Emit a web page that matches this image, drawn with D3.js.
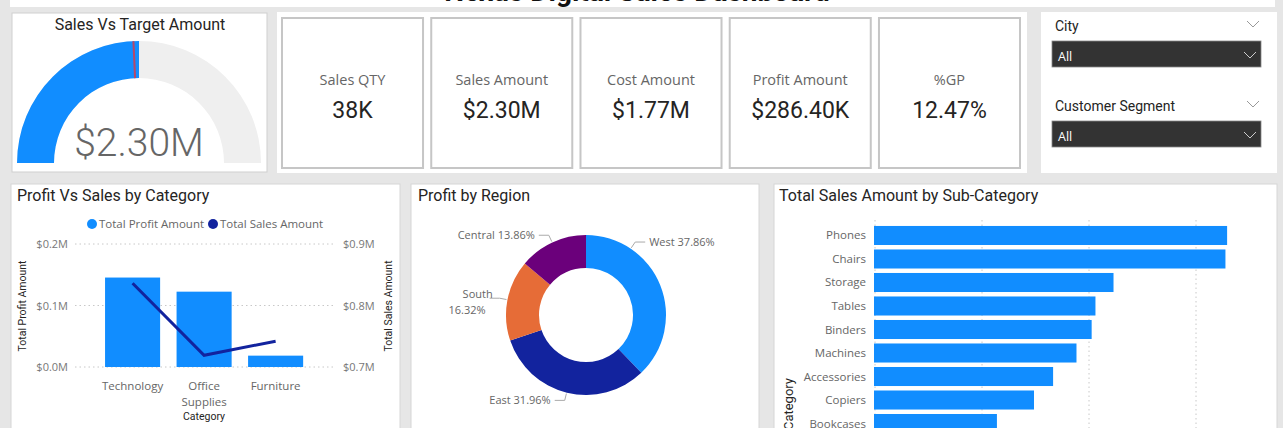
<!DOCTYPE html>
<html>
<head>
<meta charset="utf-8">
<script src="https://cdn.jsdelivr.net/npm/d3@7"></script>
<style>
  body { margin: 0; background: #e6e6e6; }
  svg { display: block; }
  text { font-family: 'Open Sans', 'Segoe UI', sans-serif; }
  .din { font-family: Roboto, 'DejaVu Sans', sans-serif; }
</style>
</head>
<body>
<svg id="dash" width="1283" height="428"></svg>
<script>
// ---- data ----
let gaugeValue = 2297201, gaugeMax = 4594402, gaugeTarget = 2230000
let gaugeLabel = '$2.30M'

let kpiNames = ['Sales QTY', 'Sales Amount', 'Cost Amount', 'Profit Amount', '%GP']
let kpiValues = ['38K', '$2.30M', '$1.77M', '$286.40K', '12.47%']

let slicerNames = ['City', 'Customer Segment']
let slicerValues = ['All', 'All']

let categories = ['Technology', 'Office Supplies', 'Furniture']
let catProfit = [145455, 122491, 18451]
let catSales = [836154, 719047, 741999]
let profitTicks = [0, 100000, 200000]
let salesTicks = [700000, 800000, 900000]

let regions = ['West', 'East', 'South', 'Central']
let regionShare = [37.86, 31.96, 16.32, 13.86]

let subCats = ['Phones', 'Chairs', 'Storage', 'Tables', 'Binders', 'Machines', 'Accessories', 'Copiers', 'Bookcases']
let subSales = [330007, 328449, 223844, 206966, 203413, 189239, 167380, 149528, 114880]
let subTicks = [0, 100000, 200000, 300000]

function main() {
    let svg = d3.select('#dash')
    const blue = '#118DFF', navy = '#12239E', grey = '#666'

    // top title band (title is mostly scrolled out of view)
    svg.append('rect').attr('x', 10).attr('y', 0).attr('width', 1265).attr('height', 7).attr('fill', '#fff')
    svg.append('text').attr('class', 'din').attr('x', 637).attr('y', 1)
        .attr('text-anchor', 'middle').attr('font-size', 28).attr('font-weight', 700).attr('fill', '#111')
        .text('Nexus Digital Sales Dashboard')

    const panel = (x, y, w, h, stroke) => svg.append('rect')
        .attr('x', x).attr('y', y).attr('width', w).attr('height', h)
        .attr('fill', '#fff').attr('stroke', stroke || 'none')

    // ---- gauge ----
    panel(12, 13, 255, 159, '#cfcfcf')
    svg.append('text').attr('class', 'din').attr('x', 140).attr('y', 30)
        .attr('text-anchor', 'middle').attr('font-size', 16).attr('fill', '#252423')
        .text('Sales Vs Target Amount')
    let gScale = d3.scaleLinear().domain([0, gaugeMax]).range([-Math.PI / 2, Math.PI / 2])
    let arc = d3.arc().innerRadius(85).outerRadius(122)
    let gg = svg.append('g').attr('transform', 'translate(139,163)')
    gg.append('path').attr('d', arc({startAngle: gScale(0), endAngle: gScale(gaugeMax)})).attr('fill', '#efefef')
    gg.append('path').attr('d', arc({startAngle: gScale(0), endAngle: gScale(gaugeValue)})).attr('fill', blue)
    let ta = gScale(gaugeTarget)
    gg.append('line')
        .attr('x1', 85 * Math.sin(ta)).attr('y1', -85 * Math.cos(ta))
        .attr('x2', 122 * Math.sin(ta)).attr('y2', -122 * Math.cos(ta))
        .attr('stroke', '#b5486a').attr('stroke-width', 2)
    gg.append('text').attr('class', 'din').attr('x', 0).attr('y', -7)
        .attr('text-anchor', 'middle').attr('font-size', 39).attr('font-weight', 300).attr('fill', grey)
        .text(gaugeLabel)

    // ---- KPI cards ----
    panel(277, 12, 750, 161)
    let cardX = d3.scaleBand().domain(kpiNames).range([282, 1020]).paddingInner(0.055)
    kpiNames.forEach((name, i) => {
        let x = cardX(name), w = cardX.bandwidth()
        svg.append('rect').attr('x', x).attr('y', 18).attr('width', w).attr('height', 150)
            .attr('fill', '#fff').attr('stroke', '#c6c6c6').attr('stroke-width', 2)
        svg.append('text').attr('x', x + w / 2).attr('y', 85).attr('text-anchor', 'middle')
            .attr('font-size', 14.5).attr('fill', grey).text(name)
        svg.append('text').attr('class', 'din').attr('x', x + w / 2).attr('y', 118).attr('text-anchor', 'middle')
            .attr('font-size', 23).attr('fill', '#252423').text(kpiValues[i])
    })

    // ---- slicers ----
    panel(1041, 12, 236, 161)
    const chevron = (cx, cy, color) => svg.append('path')
        .attr('d', `M${cx - 6},${cy - 3}L${cx},${cy + 3}L${cx + 6},${cy - 3}`)
        .attr('fill', 'none').attr('stroke', color).attr('stroke-width', 1)
    slicerNames.forEach((name, i) => {
        let oy = i * 80
        svg.append('text').attr('class', 'din').attr('x', 1055).attr('y', 31 + oy)
            .attr('font-size', 14).attr('fill', '#252423').text(name)
        chevron(1253, 24 + oy, '#999')
        svg.append('rect').attr('x', 1052).attr('y', 41 + oy).attr('width', 209).attr('height', 26)
            .attr('fill', '#333').attr('stroke', '#888').attr('stroke-width', 0.8)
        svg.append('text').attr('x', 1058).attr('y', 61 + oy)
            .attr('font-size', 12.5).attr('fill', '#fff').text(slicerValues[i])
        chevron(1250, 55 + oy, '#ccc')
    })

    // ---- Profit Vs Sales by Category ----
    panel(11, 184, 389, 260, '#d6d6d6')
    svg.append('text').attr('class', 'din').attr('x', 17).attr('y', 201)
        .attr('font-size', 16).attr('fill', '#252423').text('Profit Vs Sales by Category')
    let lg = svg.append('g').attr('font-size', 11.5).attr('fill', grey)
    lg.append('circle').attr('cx', 92).attr('cy', 224).attr('r', 5).attr('fill', blue)
    lg.append('text').attr('x', 99).attr('y', 228).text('Total Profit Amount')
    lg.append('circle').attr('cx', 213).attr('cy', 224).attr('r', 5).attr('fill', navy)
    lg.append('text').attr('x', 220).attr('y', 228).text('Total Sales Amount')

    let cx = d3.scaleBand().domain(categories).range([88.6, 319.6]).padding(0.23)
    let py = d3.scaleLinear().domain([0, 200000]).range([367, 244])
    let sy = d3.scaleLinear().domain([700000, 900000]).range([367, 244])
    let fmtM = d => '$' + (d / 1e6).toFixed(1) + 'M'

    svg.append('g').selectAll('line').data(profitTicks).enter().append('line')
        .attr('x1', 75).attr('x2', 334).attr('y1', d => py(d)).attr('y2', d => py(d))
        .attr('stroke', '#c8c8c8').attr('stroke-dasharray', '1.5,3')
    svg.append('g').selectAll('text').data(profitTicks).enter().append('text')
        .attr('x', 68).attr('y', d => py(d) + 4).attr('text-anchor', 'end')
        .attr('font-size', 11).attr('fill', '#777').text(fmtM)
    svg.append('g').selectAll('text').data(salesTicks).enter().append('text')
        .attr('x', 343).attr('y', d => sy(d) + 4)
        .attr('font-size', 11).attr('fill', '#777').text(fmtM)

    svg.append('g').selectAll('rect').data(categories).enter().append('rect')
        .attr('x', d => cx(d)).attr('width', cx.bandwidth())
        .attr('y', (d, i) => py(catProfit[i])).attr('height', (d, i) => py(0) - py(catProfit[i]))
        .attr('fill', blue)
    let line = d3.line().x(d => cx(d.c) + cx.bandwidth() / 2).y(d => sy(d.v))
    svg.append('path').datum(categories.map((c, i) => ({c: c, v: catSales[i]})))
        .attr('d', line).attr('fill', 'none').attr('stroke', navy).attr('stroke-width', 3)

    categories.forEach(c => {
        let t = svg.append('text').attr('x', cx(c) + cx.bandwidth() / 2).attr('y', 390)
            .attr('text-anchor', 'middle').attr('font-size', 11.5).attr('fill', grey)
        c.split(' ').forEach((w, k) => t.append('tspan').attr('x', cx(c) + cx.bandwidth() / 2).attr('dy', k ? 15.5 : 0).text(w))
    })
    svg.append('text').attr('class', 'din').attr('x', 204).attr('y', 420).attr('text-anchor', 'middle')
        .attr('font-size', 10.5).attr('fill', '#252423').text('Category')
    svg.append('text').attr('class', 'din').attr('transform', 'translate(26,306) rotate(-90)')
        .attr('text-anchor', 'middle').attr('font-size', 10.5).attr('fill', '#252423')
        .text('Total Profit Amount')
    svg.append('text').attr('class', 'din').attr('transform', 'translate(392,306) rotate(-90)')
        .attr('text-anchor', 'middle').attr('font-size', 10.5).attr('fill', '#252423')
        .text('Total Sales Amount')

    // ---- Profit by Region ----
    panel(411, 184, 348, 260, '#d6d6d6')
    svg.append('text').attr('class', 'din').attr('x', 418).attr('y', 201)
        .attr('font-size', 16).attr('fill', '#252423').text('Profit by Region')
    let pie = d3.pie().sort(null).value(d => d.v)
    let slices = pie(regions.map((r, i) => ({r: r, v: regionShare[i]})))
    let dColor = d3.scaleOrdinal().domain(regions).range([blue, navy, '#E66C37', '#6B007B'])
    let dArc = d3.arc().innerRadius(47).outerRadius(80)
    let dg = svg.append('g').attr('transform', 'translate(586,315)')
    dg.selectAll('path').data(slices).enter().append('path')
        .attr('d', dArc).attr('fill', d => dColor(d.data.r))

    // leader-line anchor angles (degrees clockwise from top), chosen to match Power BI label placement
    let labelAngle = {West: 34, East: 194, South: 281, Central: 335}
    let polar = (a, r) => [r * Math.sin(a * Math.PI / 180), -r * Math.cos(a * Math.PI / 180)]
    slices.forEach(s => {
        let a = labelAngle[s.data.r]
        let p0 = polar(a, 81), p1 = polar(a, 88)
        let right = a < 180
        let p2 = [p1[0] + (right ? 10 : -10), p1[1]]
        dg.append('path').attr('d', d3.line()([p0, p1, p2]))
            .attr('fill', 'none').attr('stroke', '#aaa').attr('stroke-width', 1)
        let txt = s.data.r + ' ' + s.data.v.toFixed(2) + '%'
        let t = dg.append('text').attr('x', p2[0] + (right ? 4 : -4)).attr('y', p2[1] + 4)
            .attr('text-anchor', right ? 'start' : 'end').attr('font-size', 11).attr('fill', grey)
        if (s.data.r === 'South') {
            t.append('tspan').attr('x', p2[0] - 12).attr('dy', -4).attr('text-anchor', 'middle').text(s.data.r)
            t.append('tspan').attr('x', p2[0] - 4).attr('dy', 16).text(s.data.v.toFixed(2) + '%')
        } else {
            t.text(txt)
        }
    })

    // ---- Total Sales Amount by Sub-Category ----
    panel(774, 184, 503, 260, '#d6d6d6')
    svg.append('text').attr('class', 'din').attr('x', 779).attr('y', 201)
        .attr('font-size', 16).attr('fill', '#252423').text('Total Sales Amount by Sub-Category')
    let bx = d3.scaleLinear().domain([0, 350000]).range([874, 1248.5])
    let by = d3.scaleBand().domain(subCats).range([221.5, 437.5]).padding(0.19)
    svg.append('g').selectAll('line').data(subTicks).enter().append('line')
        .attr('x1', d => bx(d) + 1).attr('x2', d => bx(d) + 1).attr('y1', 220).attr('y2', 440)
        .attr('stroke', '#c8c8c8').attr('stroke-dasharray', '1.5,3')
    svg.append('g').selectAll('rect').data(subCats).enter().append('rect')
        .attr('x', bx(0)).attr('y', d => by(d)).attr('height', by.bandwidth())
        .attr('width', (d, i) => bx(subSales[i]) - bx(0)).attr('fill', blue)
    svg.append('g').selectAll('text').data(subCats).enter().append('text')
        .attr('x', 866).attr('y', d => by(d) + by.bandwidth() / 2 + 4).attr('text-anchor', 'end')
        .attr('font-size', 11.5).attr('fill', grey).text(d => d)
    svg.append('text').attr('class', 'din').attr('transform', 'translate(793,378) rotate(-90)')
        .attr('text-anchor', 'end').attr('font-size', 13).attr('fill', '#252423')
        .text('Sub-Category')
}

main()
</script>
</body>
</html>
